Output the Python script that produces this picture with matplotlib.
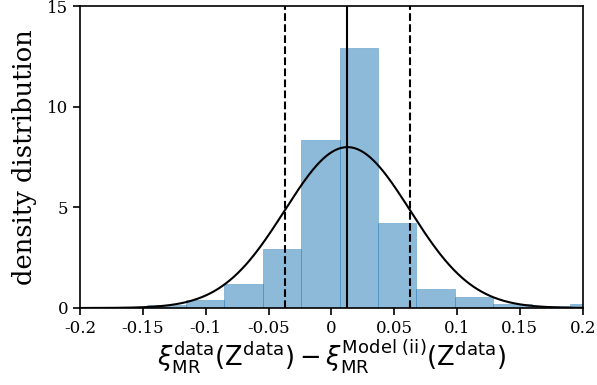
import numpy as np
import matplotlib
matplotlib.use("Agg")
import matplotlib.pyplot as plt

plt.rcParams['font.family'] = 'serif'
plt.rcParams['mathtext.fontset'] = 'dejavusans'

# histogram bins and their densities
bin_edges = [-0.2077, -0.1771, -0.1465, -0.1159, -0.0853, -0.0547, -0.0241,
             0.0065, 0.0371, 0.0677, 0.0983, 0.1289, 0.1595, 0.1901, 0.2207]
densities = [0.05, 0.02, 0.14, 0.40, 1.19, 2.95, 8.35,
             12.92, 4.22, 0.94, 0.55, 0.21, 0.10, 0.21]

# gaussian fit
mu = 0.0128
sigma = 0.0499

xticks = [-0.2, -0.15, -0.1, -0.05, 0, 0.05, 0.1, 0.15, 0.2]
xticklabels = ['-0.2', '-0.15', '-0.1', '-0.05', '0', '0.05', '0.1', '0.15', '0.2']

fig = plt.figure(figsize=(5.97, 3.85), dpi=100)
ax = fig.add_axes([0.134, 0.2, 0.842, 0.784])

edges = np.array(bin_edges)
ax.bar(edges[:-1], densities, width=np.diff(edges), align='edge',
       color='#1f77b4', alpha=0.5, edgecolor='#1f77b4', linewidth=0.5)

xs = np.linspace(-0.2, 0.2, 500)
pdf = np.exp(-0.5 * ((xs - mu) / sigma) ** 2) / (sigma * np.sqrt(2 * np.pi))
ax.plot(xs, pdf, color='black', lw=1.5)
ax.axvline(mu, color='black', lw=1.5)
ax.axvline(mu - sigma, color='black', lw=1.5, ls='--')
ax.axvline(mu + sigma, color='black', lw=1.5, ls='--')

ax.set_xlim(-0.2, 0.2)
ax.set_ylim(0, 15)
ax.set_xticks(xticks)
ax.set_xticklabels(xticklabels)
ax.set_yticks([0, 5, 10, 15])
ax.tick_params(labelsize=12, width=1.2, length=5)
for s in ax.spines.values():
    s.set_linewidth(1.2)

ax.set_ylabel('density distribution', fontsize=18.5, labelpad=7)
ax.set_xlabel(r'$\xi_{\mathrm{MR}}^{\mathrm{data}}(\mathrm{Z}^{\mathrm{data}}) - '
              r'\xi_{\mathrm{MR}}^{\mathrm{Model\ (ii)}}(\mathrm{Z}^{\mathrm{data}})$',
              fontsize=18.5, labelpad=1)

fig.savefig('out.png', dpi=100)
